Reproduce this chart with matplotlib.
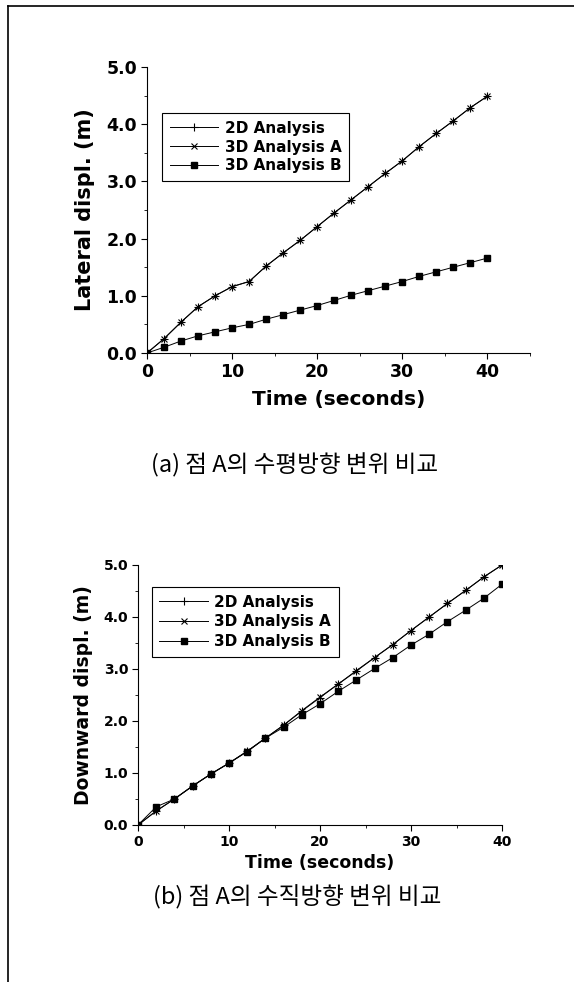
import matplotlib
matplotlib.use("Agg")
import matplotlib.pyplot as plt
from matplotlib.lines import Line2D
from matplotlib.ticker import MultipleLocator, FormatStrFormatter

# time steps (seconds)
time_s = [0, 2, 4, 6, 8, 10, 12, 14, 16, 18, 20, 22, 24, 26, 28, 30, 32, 34, 36, 38, 40]

# (a) lateral displacement (m)
lat_2d = [0.0, 0.25, 0.54, 0.81, 1.00, 1.16, 1.25, 1.52, 1.75, 1.97, 2.21, 2.45, 2.68,
          2.91, 3.14, 3.36, 3.61, 3.84, 4.06, 4.29, 4.49]
lat_3d_a = [0.0, 0.25, 0.54, 0.81, 1.00, 1.16, 1.25, 1.52, 1.75, 1.97, 2.21, 2.45, 2.68,
            2.91, 3.14, 3.36, 3.61, 3.84, 4.06, 4.29, 4.49]
lat_3d_b = [0.0, 0.10, 0.21, 0.30, 0.37, 0.44, 0.50, 0.59, 0.67, 0.75, 0.83, 0.92, 1.01,
            1.09, 1.17, 1.25, 1.34, 1.42, 1.50, 1.58, 1.66]

# (b) downward displacement (m)
down_2d = [0.0, 0.27, 0.50, 0.75, 0.98, 1.19, 1.42, 1.67, 1.92, 2.19, 2.45, 2.71, 2.96,
           3.22, 3.47, 3.74, 4.00, 4.26, 4.51, 4.77, 5.00]
down_3d_a = [0.0, 0.27, 0.50, 0.75, 0.98, 1.19, 1.42, 1.67, 1.92, 2.20, 2.46, 2.71, 2.97,
             3.22, 3.47, 3.74, 4.00, 4.26, 4.51, 4.77, 5.00]
down_3d_b = [0.0, 0.35, 0.50, 0.75, 0.98, 1.19, 1.41, 1.67, 1.88, 2.12, 2.33, 2.57, 2.79,
             3.01, 3.22, 3.46, 3.67, 3.91, 4.13, 4.36, 4.63]

series_names = ["2D Analysis", "3D Analysis A", "3D Analysis B"]
caption_a = "(a) 점 A의 수평방향 변위 비교"
caption_b = "(b) 점 A의 수직방향 변위 비교"

W, H = 574, 982
fig = plt.figure(figsize=(W / 100, H / 100), dpi=100)
fig.patch.set_facecolor("white")


def frac_box(left, top, right, bottom):
    # pixel box -> figure fraction rect
    return [left / W, 1 - bottom / H, (right - left) / W, (bottom - top) / H]


def style_axes(ax, fs_tick, xmax):
    ax.spines["top"].set_visible(False)
    ax.spines["right"].set_visible(False)
    for s in ("left", "bottom"):
        ax.spines[s].set_linewidth(0.8)
    ax.set_xlim(0, xmax)
    ax.set_ylim(0, 5.0)
    ax.xaxis.set_major_locator(MultipleLocator(10))
    ax.xaxis.set_minor_locator(MultipleLocator(5))
    ax.yaxis.set_major_locator(MultipleLocator(1.0))
    ax.yaxis.set_minor_locator(MultipleLocator(0.5))
    ax.yaxis.set_major_formatter(FormatStrFormatter("%.1f"))
    ax.tick_params(which="major", direction="out", length=4, width=0.8,
                   labelsize=fs_tick, pad=3)
    ax.tick_params(which="minor", direction="out", length=2, width=0.6)
    for lab in ax.get_xticklabels() + ax.get_yticklabels():
        lab.set_fontweight("bold")


def draw_series(ax, ys):
    ax.plot(time_s, ys[0], color="black", lw=0.7, marker="+", ms=6, mew=0.8,
            label=series_names[0])
    ax.plot(time_s, ys[1], color="black", lw=0.7, marker="x", ms=5, mew=0.8,
            label=series_names[1])
    ax.plot(time_s, ys[2], color="black", lw=0.7, marker="s", ms=4,
            label=series_names[2])


def add_legend(ax, anchor, size, spacing):
    leg = ax.legend(loc="upper left", bbox_to_anchor=anchor, borderaxespad=0,
                    fancybox=False, edgecolor="black", framealpha=1,
                    handlelength=3.2, borderpad=0.5, labelspacing=spacing,
                    handletextpad=0.4, prop={"weight": "bold", "size": size})
    leg.get_frame().set_linewidth(0.8)
    return leg


# ---- panel (a)
ax1 = fig.add_axes(frac_box(147, 67, 530, 353))
draw_series(ax1, [lat_2d, lat_3d_a, lat_3d_b])
style_axes(ax1, 12.5, 45)
ax1.set_xlabel("Time (seconds)", fontsize=14.5, fontweight="bold", labelpad=7)
ax1.set_ylabel("Lateral displ. (m)", fontsize=15, fontweight="bold", labelpad=8)
add_legend(ax1, (0.039, 0.839), 11, 0.25)

fig.text(295 / W, 1 - 465 / H, caption_a, ha="center", va="center",
         fontsize=17, family=["Noto Sans CJK KR", "DejaVu Sans"])

# ---- panel (b)
ax2 = fig.add_axes(frac_box(138, 565, 502, 825))
draw_series(ax2, [down_2d, down_3d_a, down_3d_b])
style_axes(ax2, 10, 40)
ax2.set_xlabel("Time (seconds)", fontsize=12.5, fontweight="bold", labelpad=4)
ax2.set_ylabel("Downward displ. (m)", fontsize=13.5, fontweight="bold", labelpad=8)
add_legend(ax2, (0.038, 0.915), 11, 0.3)

fig.text(297 / W, 1 - 897 / H, caption_b, ha="center", va="center",
         fontsize=17, family=["Noto Sans CJK KR", "DejaVu Sans"])

# scanned page border (left and top)
fig.add_artist(Line2D([8 / W, 8 / W], [0, 1 - 6 / H], transform=fig.transFigure,
                      color="black", lw=1.2))
fig.add_artist(Line2D([8 / W, 1], [1 - 6 / H, 1 - 6 / H], transform=fig.transFigure,
                      color="black", lw=1.2))

fig.savefig("out.png", dpi=100)
